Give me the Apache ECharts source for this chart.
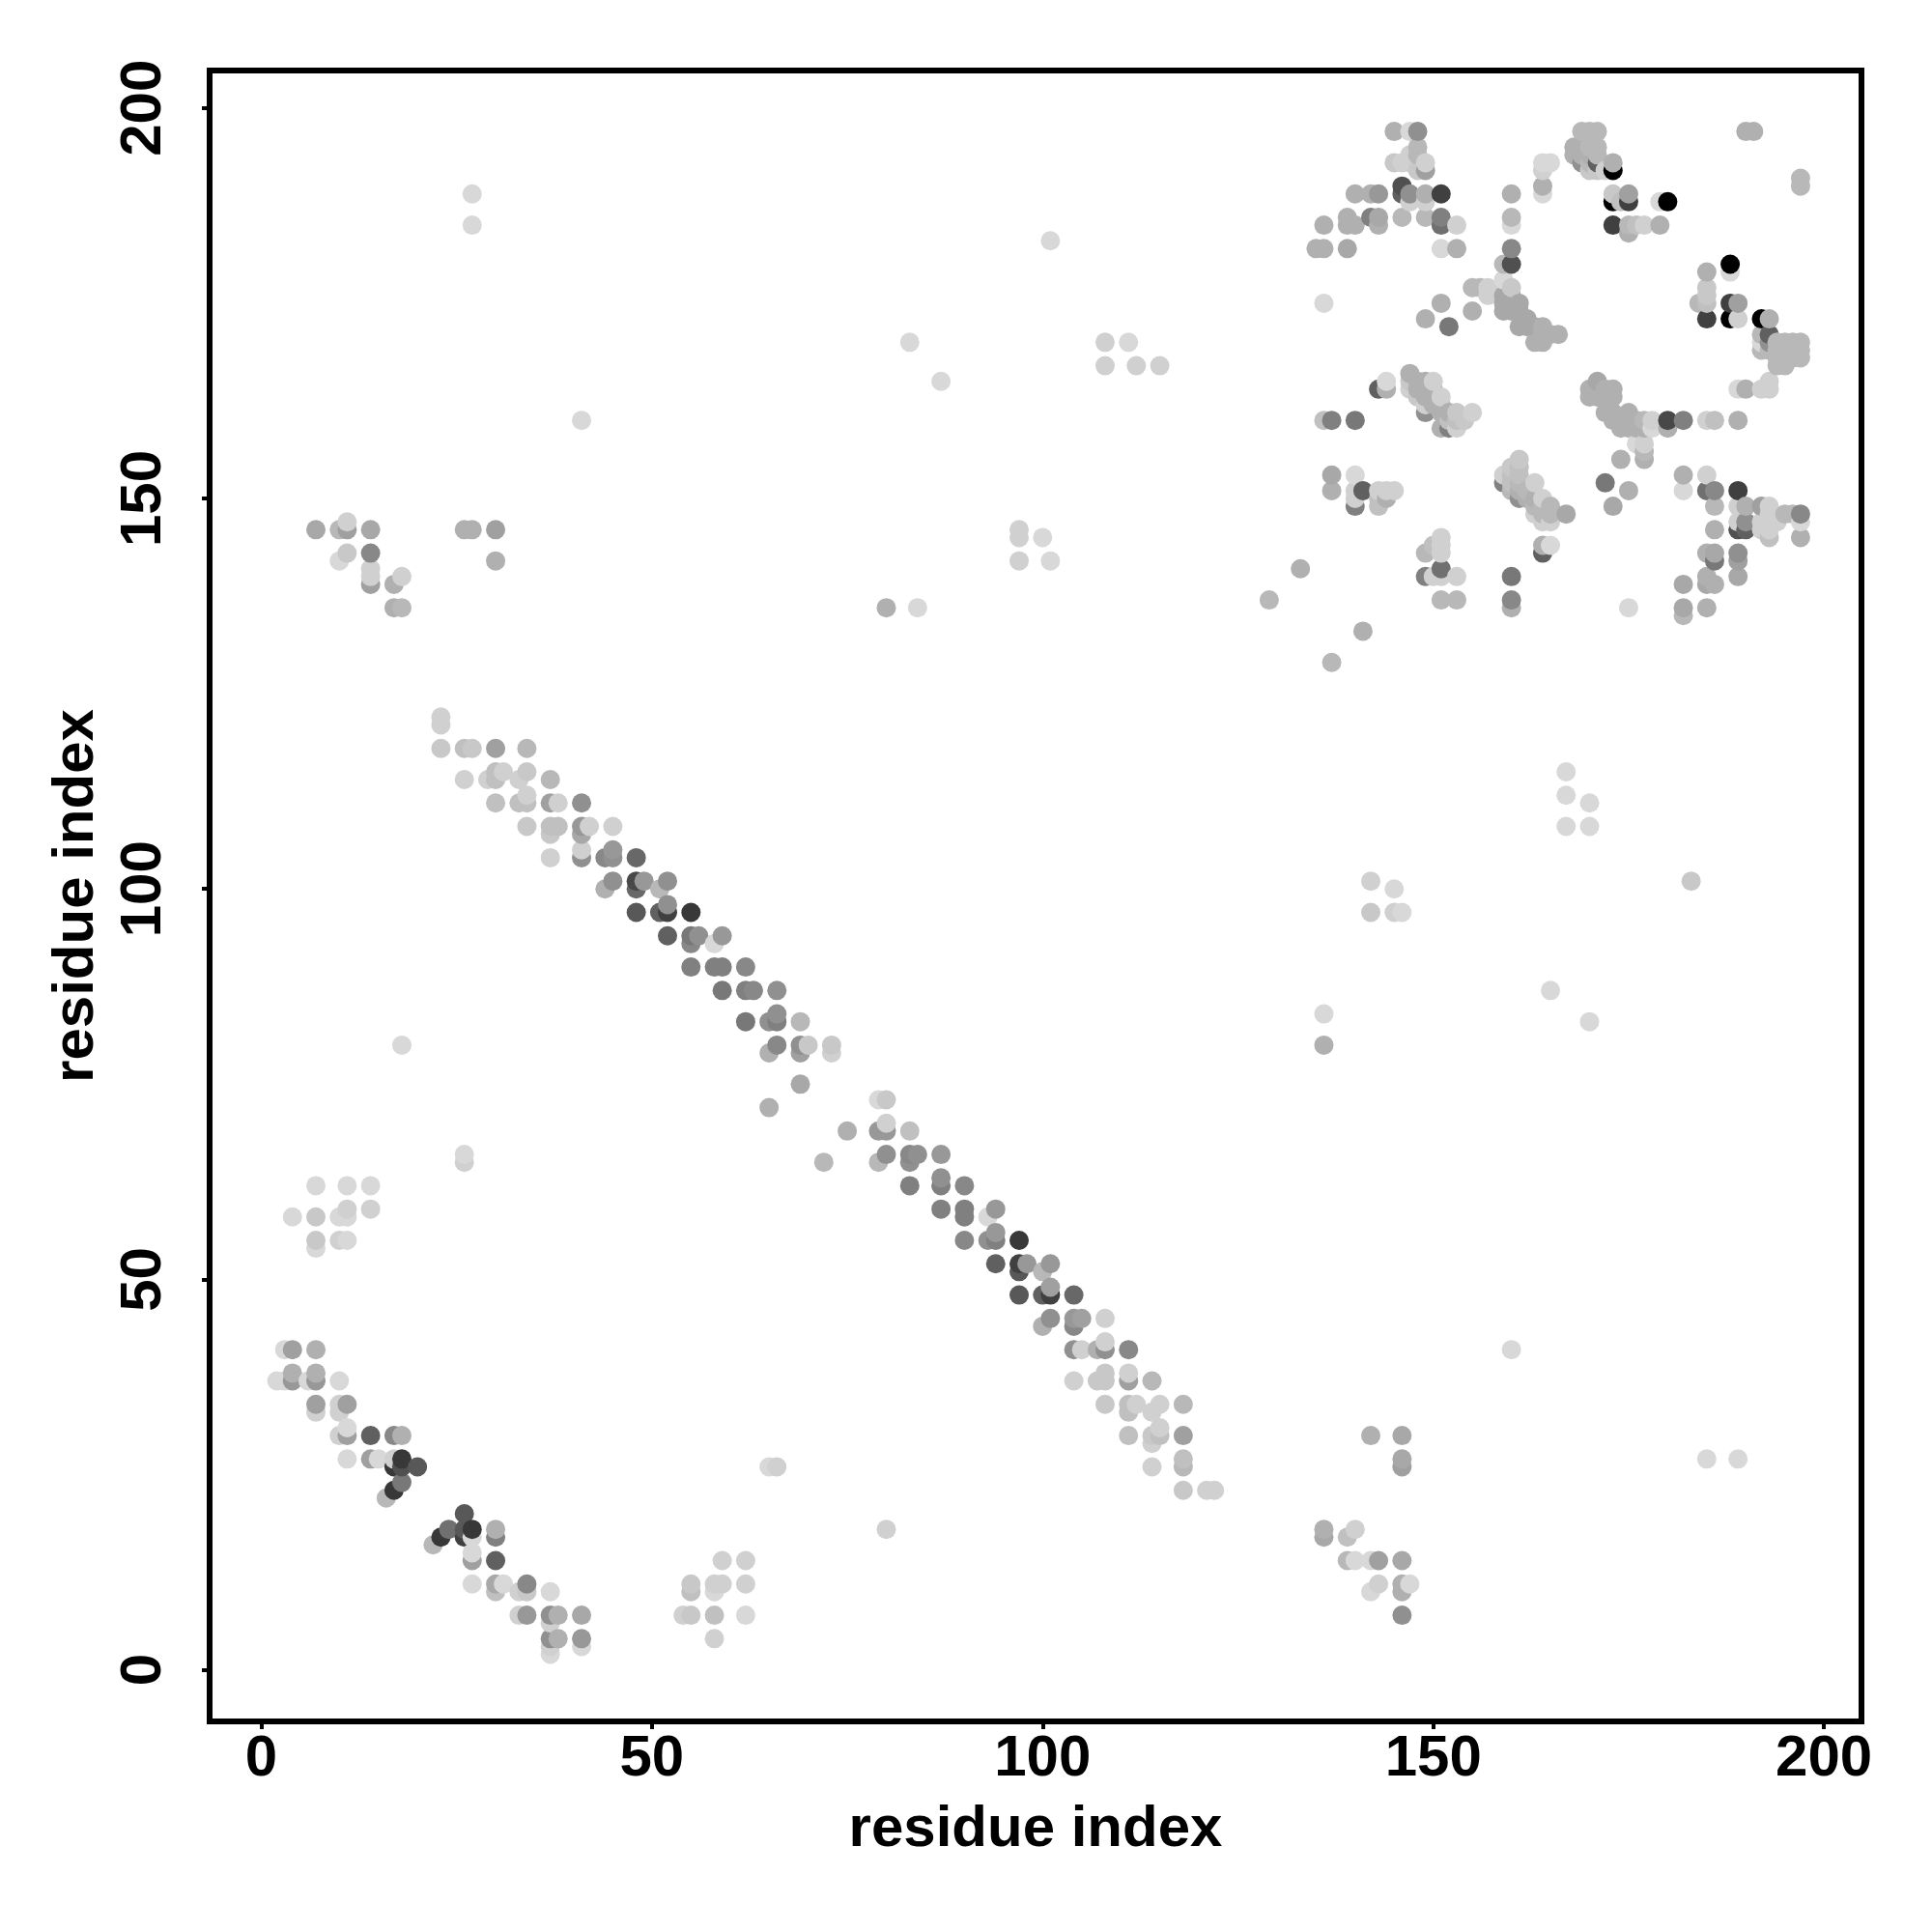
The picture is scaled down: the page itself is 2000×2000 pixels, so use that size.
<!DOCTYPE html>
<html><head><meta charset="utf-8">
<style>html,body{margin:0;padding:0;background:#fff}#c{width:2000px;height:2000px}</style>
<script src="https://cdn.jsdelivr.net/npm/echarts@6/dist/echarts.min.js"></script>
</head><body><div id="c"></div>
<script>
// each contact: [residue x, residue y, darkness level: grey = level*8]
const tickValues=[0,50,100,150,200];
const axisTitle='residue index';
const lowerLeft=[[3,41,27],[4,41,20],[7,41,22],[4,38,22],[7,38,22],[2,37,27],[3,37,27],[4,37,19],[6,37,27],[7,37,19],[10,37,27],
[7,34,20],[10,34,26],[11,34,20],[7,33,26],[10,33,26],[11,31,27],[10,30,26],[11,30,20],[14,30,12],[17,30,17],[18,30,22],
[11,27,27],[14,27,20],[15,27,27],[17,27,26],[18,27,7],[17,26,7],[18,26,10],[20,26,11],[18,24,15],[17,23,7],[16,22,23],
[26,20,11],[24,18,14],[26,18,11],[27,18,7],[30,18,22],[23,17,7],[26,17,8],[27,17,27],[30,17,16],[22,16,23],[27,15,27],[27,14,20],[30,14,12],
[27,11,27],[30,11,21],[31,11,27],[34,11,17],[30,10,24],[33,10,26],[34,10,25],[37,10,27],[33,7,26],[34,7,19],[37,7,18],[38,7,22],[41,7,21],[37,6,26],
[37,4,18],[38,4,22],[41,4,19],[41,3,27],[37,3,26],[37,2,27],
[59,14,26],[62,14,26],[55,11,25],[58,11,26],[59,11,26],[62,11,26],[55,10,24],[58,10,27],[54,7,26],[55,7,25],[58,7,24],[62,7,27],[58,4,26],[65,26,27],[66,26,26]];
const diagonalUpper=[[23,122,26],[23,121,26],[23,118,25],[26,118,24],[27,118,25],[30,118,20],[34,118,23],
[30,115,24],[31,115,26],[34,115,25],[26,114,26],[29,114,26],[30,114,24],[33,114,26],[37,114,23],[34,112,26],
[30,111,24],[33,111,24],[34,111,24],[37,111,20],[38,111,26],[41,111,18],[34,108,25],[37,108,24],[38,108,24],[41,108,19],[42,108,26],[45,108,26],
[37,107,25],[41,107,21],[41,105,26],[45,105,19],[37,104,26],[41,104,18],[44,104,17],[45,104,18],[48,104,13],
[45,101,18],[48,101,9],[49,101,19],[52,101,18],[44,100,22],[48,100,13],[51,100,23],[52,98,18],[48,97,11],[51,97,12],[52,97,8],[55,97,7],
[52,94,12],[55,94,15],[56,94,18],[59,94,19],[55,93,17],[58,93,27],[55,90,16],[58,90,16],[59,90,16],[62,90,17],
[59,87,15],[62,87,16],[63,87,17],[66,87,18],[66,84,18],[62,83,15],[65,83,18],[66,83,16],[69,83,23],
[66,80,17],[69,80,18],[70,80,25],[73,80,25],[65,79,22],[69,79,20],[73,79,26],[69,75,21],[65,72,22]];
const diagonalLower=[[79,73,27],[80,73,25],[80,70,26],[75,69,22],[79,69,19],[80,69,19],[83,69,24],[80,66,18],[83,66,17],[84,66,18],[87,66,19],
[72,65,23],[79,65,23],[83,65,18],[87,63,18],[83,62,16],[87,62,16],[90,62,17],[87,59,16],[90,59,16],[94,59,19],[90,58,16],[93,58,27],
[94,56,19],[90,55,17],[93,55,18],[94,55,16],[97,55,7],[94,52,12],[97,52,8],[98,52,19],[101,52,19],[97,51,11],[100,51,23],[101,49,20],
[97,48,11],[100,48,12],[101,48,8],[104,48,13],[101,45,18],[104,45,19],[105,45,20],[108,45,26],[100,44,22],[104,44,17],[108,42,26],
[104,41,18],[105,41,26],[107,41,22],[108,41,18],[111,41,17],[108,38,25],[111,38,26],[104,37,26],[107,37,25],[108,37,25],[111,37,20],[114,37,23],
[108,34,25],[111,34,24],[112,34,26],[115,34,26],[118,34,23],[111,33,24],[114,33,26],[115,31,26],[111,30,24],[114,30,25],[115,30,24],[118,30,20],
[114,29,26],[118,27,24],[114,26,26],[118,26,23],[118,23,25],[121,23,26],[122,23,26]];
const upperRightTop=[[145,197,22],[147,197,27],[148,197,18],[148,195,23],[148,194,23],[145,193,25],[146,193,26],[147,193,26],[149,193,26],[147,194,26],[148,192,25],[149,192,20],
[146,190,10],[140,189,22],[142,189,22],[143,189,19],[146,189,12],[147,189,18],[149,189,22],[151,189,8],[147,188,26],[149,188,26],
[139,186,22],[142,186,16],[143,186,21],[146,186,23],[149,186,23],[151,186,16],[136,185,22],[139,185,22],[140,185,22],[143,185,22],[151,185,14],[153,185,26],
[135,182,22],[136,182,22],[139,182,21],[151,182,27],[153,182,22],[160,189,22],[160,186,23],[160,185,27],[160,182,17],[160,180,10],[159,180,23],
[164,193,27],[165,193,27],[164,192,26],[164,190,22],[164,189,27],[159,178,27],[160,177,25],[155,177,23],[156,177,23],[157,177,26],[157,176,26],
[159,176,21],[160,176,21],[159,175,21],[160,175,21],[161,175,21],[159,174,21],[160,174,21],[161,174,21],[162,173,21],[161,172,21],[162,172,21],[163,172,21],
[164,172,22],[164,171,22],[165,171,22],[163,170,22],[164,170,22],[166,171,22],[151,175,22],[149,173,22],[155,174,22],[152,172,15],[136,175,27],
[169,197,23],[170,197,23],[171,197,23],[168,195,22],[168,194,22],[169,195,22],[169,194,22],[170,194,22],[170,195,23],[171,195,23],[171,194,23],
[169,193,18],[170,193,23],[171,193,12],[170,192,25],[171,192,25],[172,192,26],[173,193,22],[173,192,0],[173,189,25],[175,189,20],
[173,188,0],[174,188,24],[175,188,8],[179,188,27],[180,188,0],[173,185,8],[175,185,23],[176,185,24],[177,185,26],[179,185,22],[175,184,22],
[190,197,22],[191,197,22],[197,191,23],[197,190,23],[188,180,0],[188,179,27],[185,179,22],[185,177,25],[185,176,25],[184,175,23],[185,175,24],[185,173,8],
[188,175,8],[189,175,20],[188,173,0],[189,173,26],[192,173,0],[193,173,22],[192,171,23],[192,170,27],[192,169,23],[193,171,12],[193,170,18],[193,169,23],
[194,169,23],[194,170,23],[195,170,23],[195,168,23],[196,170,23],[195,167,23],[194,167,23],[194,168,23],[197,170,23],[197,169,23],[197,168,23],[196,168,23],[196,169,23]];
const upperRightBottom=[[143,164,12],[144,164,22],[144,165,27],[147,166,22],[147,165,25],[148,165,22],[149,165,22],[150,165,26],[147,164,26],[148,164,22],[149,164,22],[150,164,22],
[148,163,25],[149,163,22],[150,163,22],[151,163,26],[149,162,26],[150,162,22],[151,162,22],[149,161,18],[151,161,22],[152,161,22],[153,161,25],[155,161,26],[152,160,24],[153,160,24],[154,160,25],
[151,159,22],[152,159,16],[153,159,26],[136,160,24],[137,160,16],[140,160,15],[137,153,21],[140,153,27],[137,151,22],[140,151,26],[141,151,12],[143,151,26],[144,151,26],[145,151,26],
[140,150,26],[143,150,24],[144,150,22],[140,149,16],[143,149,24],[133,141,22],[129,137,23],[151,137,23],[153,137,23],[160,137,17],[160,136,22],[141,133,22],[137,129,23],
[151,145,26],[151,144,26],[151,143,26],[150,144,24],[149,143,23],[151,141,14],[149,140,16],[150,140,26],[151,140,26],[153,140,26],
[160,140,15],
[161,155,25],[160,154,25],[161,154,24],[159,153,26],[160,153,24],[161,153,24],[159,152,16],[160,152,24],[161,152,23],[163,152,26],[160,151,23],[161,151,22],[162,151,23],
[161,150,18],[162,150,22],[163,150,22],[164,150,26],[163,149,23],[164,149,23],[165,149,23],[163,148,26],[164,148,23],[165,148,23],[167,148,21],[164,147,26],[165,147,26],
[164,144,22],[165,144,27],[164,143,12],[172,152,15],[175,151,22],[173,149,21],[171,165,21],[170,164,22],[171,164,22],[172,164,22],[173,164,22],[170,163,22],[171,163,22],[172,163,22],[173,163,22],
[172,161,22],[173,161,22],[175,161,22],[173,160,22],[174,160,22],[175,160,22],[176,160,22],[177,160,23],[178,160,26],[180,160,9],[182,160,16],[185,160,26],[186,160,24],[189,160,22],
[174,159,22],[175,159,22],[176,159,22],[177,159,22],[178,159,27],[180,159,22],[176,157,27],[177,157,26],[177,156,23],[174,155,22],[177,155,22],
[182,153,22],[182,151,27],[185,153,26],[185,151,14],[186,151,17],[189,151,8],[186,149,23],[189,149,26],[190,149,22],[192,149,20],[193,149,26],
[193,148,26],[195,148,23],[196,148,23],[197,148,17],[189,147,26],[190,147,18],[192,147,26],[193,147,26],[194,147,26],[197,147,27],
[186,146,22],[189,146,10],[190,146,12],[192,146,26],[193,146,26],[193,145,24],[197,145,22],[185,143,22],[186,143,21],[189,143,18],[186,142,15],[189,142,20],[189,140,21],[185,140,22],
[182,139,21],[185,139,21],[186,139,22],[182,136,21],[185,136,22],[182,135,23],[175,136,27],[189,164,27],[190,164,22],[192,164,26],[193,164,26],[193,165,26]];
const sparseContacts=[[7,146,21],[10,146,23],[11,146,20],[11,147,26],[14,146,21],[10,142,27],[11,143,25],[14,143,17],[14,141,26],[14,140,26],[14,139,20],[17,139,22],[18,140,26],[17,136,22],[18,136,23],
[26,146,22],[27,146,22],[30,146,20],[30,142,22],[27,189,27],[27,185,27],[41,160,27],[83,170,27],[87,165,27],[108,170,26],[111,170,27],[108,167,26],[112,167,26],[115,167,26],[101,183,27],
[97,146,26],[97,145,26],[100,145,27],[97,142,26],[101,142,27],[80,136,22],[84,136,27],[167,115,27],[167,112,27],[170,111,27],[167,108,27],[170,108,27],
[142,101,26],[145,100,27],[142,97,25],[145,97,26],[146,97,27],[183,101,25],[165,87,27],[170,83,27],[136,84,27],[136,80,22],[18,80,27],[26,66,27],[26,65,26],
[7,62,27],[11,62,27],[14,62,27],[4,58,27],[7,58,25],[10,58,27],[11,59,26],[11,58,27],[14,59,26],[7,55,25],[7,54,27],[10,55,26],[11,55,27],
[160,41,27],[185,27,27],[189,27,27],[142,30,22],[146,30,21],[146,27,21],[146,26,20],[80,18,26],[136,18,22],[136,17,21],[140,18,26],[139,17,24],[139,14,23],[140,14,27],[142,14,27],[143,14,20],[146,14,21],
[143,11,26],[142,10,27],[146,11,22],[147,11,27],[146,10,22],[146,7,18]];

const contacts=[...lowerLeft,...diagonalUpper,...diagonalLower,...upperRightTop,...upperRightBottom,...sparseContacts]
  .sort((a,b)=>a[0]-b[0]||a[1]-b[1]);

const FONT='"Liberation Sans"';
const axisBase=(extra)=>Object.assign({
  type:'value',min:-6.6,max:204.8,splitLine:{show:false},
  axisLine:{show:false,onZero:false},
  axisTick:{show:true,length:8,inside:false,customValues:tickValues,lineStyle:{color:'#000',width:4}},
  name:axisTitle,nameLocation:'middle',
  nameTextStyle:{color:'#000',fontFamily:FONT,fontWeight:'bold',fontSize:60}
},extra);
const chart=echarts.init(document.getElementById('c'),null,{renderer:'canvas'});
chart.setOption({
  animation:false,backgroundColor:'#fff',
  grid:{left:217,top:73,width:1710,height:1709,show:true,borderColor:'#000',borderWidth:6,backgroundColor:'#fff'},
  xAxis:axisBase({nameGap:82,axisLabel:{margin:9,customValues:tickValues,color:'#000',fontFamily:FONT,fontWeight:'bold',fontSize:60,formatter:v=>String(v)}}),
  yAxis:axisBase({nameGap:108,axisLabel:{margin:38,rotate:90,customValues:tickValues,color:'#000',fontFamily:FONT,fontWeight:'bold',fontSize:60,formatter:v=>String(v)}}),
  series:[{type:'scatter',symbol:'circle',symbolSize:20,silent:true,progressive:0,large:false,
    data:contacts.map(c=>{const g=c[2]*8;return {value:[c[0],c[1]],itemStyle:{color:`rgb(${g},${g},${g})`,opacity:1}};})}]
});
</script></body></html>
